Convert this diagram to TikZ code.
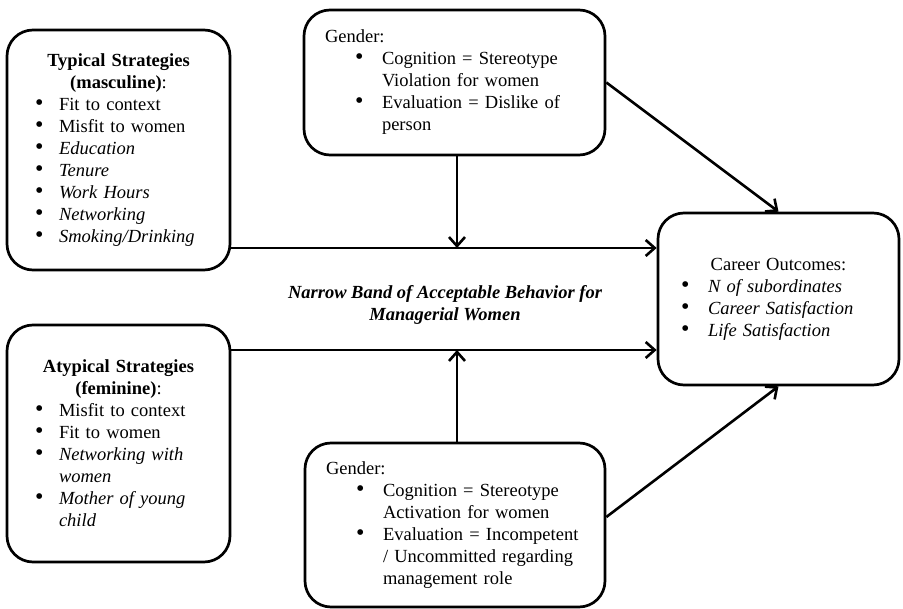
\documentclass[tikz,border=0pt]{standalone}
\usepackage{fontspec}
\setmainfont{Liberation Serif}
\usetikzlibrary{arrows.meta}

\newcommand{\hd}[1]{\makebox[\linewidth][c]{#1}}
\newcommand{\bul}[2]{\makebox[#1][l]{\scalebox{1.3}{\textbullet}}#2}

\begin{document}
\begin{tikzpicture}[x=1pt,y=-1pt,
  box/.style={draw,line width=2.7pt,rounded corners=26pt,align=left,inner ysep=0pt,font=\fontsize{18.5}{22}\selectfont},
  link/.style={-{Straight Barb[length=9pt,width=16pt]},line width=2.6pt}]
\useasboundingbox (0,0) rectangle (903,609);
% strategy boxes on the left
\node[box,text width=167pt,inner xsep=28pt,minimum height=240pt] (typ) at (118.5,150) {\hd{\textbf{Typical Strategies}}\\ \hd{\textbf{(masculine)}:}\\
 \bul{24pt}{Fit to context}\\ \bul{24pt}{Misfit to women}\\ \bul{24pt}{\textit{Education}}\\ \bul{24pt}{\textit{Tenure}}\\
 \bul{24pt}{\textit{Work Hours}}\\ \bul{24pt}{\textit{Networking}}\\ \bul{24pt}{\textit{Smoking/Drinking}}};
\node[box,text width=167pt,inner xsep=28pt,minimum height=237pt] (aty) at (118.5,443.5) {\hd{\textbf{Atypical Strategies}}\\ \hd{\textbf{(feminine)}:}\\
 \bul{24pt}{Misfit to context}\\ \bul{24pt}{Fit to women}\\ \bul{24pt}{\textit{Networking with}}\\ \hspace*{24pt}\textit{women}\\
 \bul{24pt}{\textit{Mother of young}}\\ \hspace*{24pt}\textit{child}};
% gender boxes
\node[box,text width=259pt,inner xsep=21pt,minimum height=145pt] (gtop) at (454.5,82.5) {Gender:\\
 \hspace*{30pt}\bul{27pt}{Cognition = Stereotype}\\ \hspace*{57pt}Violation for women\\
 \hspace*{30pt}\bul{27pt}{Evaluation = Dislike of}\\ \hspace*{57pt}person};
\node[box,text width=258pt,inner xsep=21pt,minimum height=164pt] (gbot) at (455,525) {Gender:\\
 \hspace*{30pt}\bul{27pt}{Cognition = Stereotype}\\ \hspace*{57pt}Activation for women\\
 \hspace*{30pt}\bul{27pt}{Evaluation = Incompetent}\\ \hspace*{57pt}/ Uncommitted regarding\\ \hspace*{57pt}management role};
% outcomes
\node[box,text width=195pt,inner xsep=23pt,minimum height=172pt] (out) at (778.5,299) {\hd{Career Outcomes:}\\
 \bul{27pt}{\textit{N of subordinates}}\\ \bul{27pt}{\textit{Career Satisfaction}}\\ \bul{27pt}{\textit{Life Satisfaction}}};
\node[font=\fontsize{18.5}{22}\selectfont\bfseries\itshape,align=center] (band) at (445,305) {Narrow Band of Acceptable Behavior for\\ Managerial Women};
\coordinate (jtop) at (457,248);
\coordinate (jbot) at (457,350);
\draw[link] (jtop |- gtop.south) -- (jtop);
\draw[link] (jbot |- gbot.north) -- (jbot);
\draw[link] (typ.east |- jtop) -- (out.west |- jtop);
\draw[link] (aty.east |- jbot) -- (out.west |- jbot);
\draw[link] (gtop.east) -- (out.north);
\draw[link] ([yshift=8pt]gbot.east) -- (out.south);
\end{tikzpicture}
\end{document}
